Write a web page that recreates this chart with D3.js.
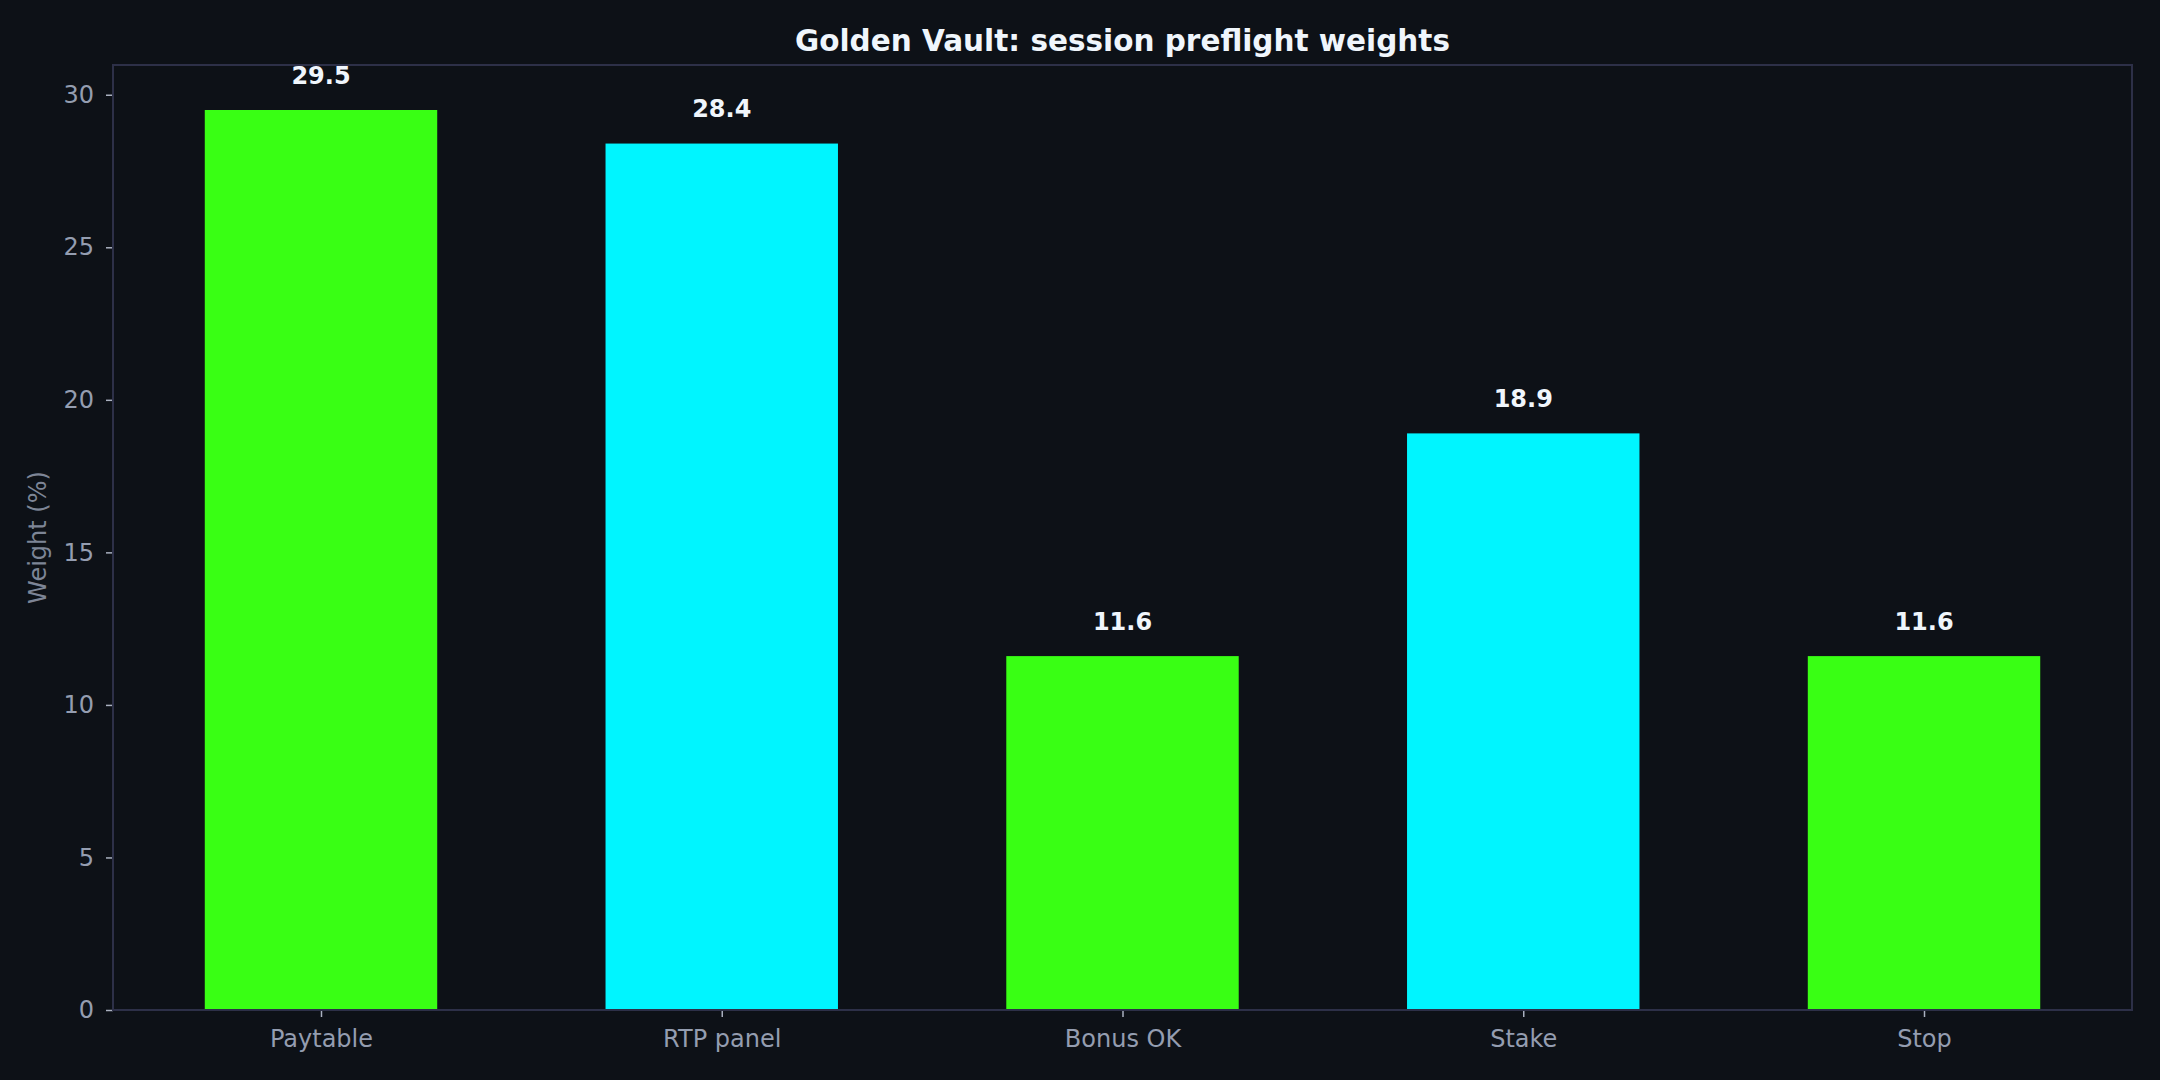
<!DOCTYPE html>
<html>
<head>
<meta charset="utf-8">
<script src="https://cdn.jsdelivr.net/npm/d3@7"></script>
<style>
  html, body { margin: 0; padding: 0; background: #0d1117; }
  svg { display: block; }
</style>
</head>
<body>
<svg id="chart" width="2160" height="1080"></svg>
<script>
const categories = ["Paytable", "RTP panel", "Bonus OK", "Stake", "Stop"];
const weights = [29.5, 28.4, 11.6, 18.9, 11.6];
const barColors = ["#39ff14", "#00f5ff", "#39ff14", "#00f5ff", "#39ff14"];
const yTicks = [0, 5, 10, 15, 20, 25, 30];
const titleText = "Golden Vault: session preflight weights";
const yLabelText = "Weight (%)";

const W = 2160, H = 1080;
const margin = { left: 113, right: 28, top: 65, bottom: 70 };
const plotW = W - margin.left - margin.right;
const plotH = H - margin.top - margin.bottom;
const font = "DejaVu Sans, Verdana, sans-serif";
const labelColor = "#949db0";
const tickLineColor = "#aab1c0";
const spineColor = "#2d3048";

const svg = d3.select("#chart");
svg.append("rect").attr("width", W).attr("height", H).attr("fill", "#0d1117");

const barW = 0.58;
const n = categories.length;
const pad = 0.05 * (n - 1 + barW);
const x = d3.scaleLinear()
  .domain([-barW / 2 - pad, n - 1 + barW / 2 + pad])
  .range([0, plotW]);
const y = d3.scaleLinear()
  .domain([0, d3.max(weights) * 1.05])
  .range([plotH, 0]);

const g = svg.append("g").attr("transform", `translate(${margin.left},${margin.top})`);

// bars
g.selectAll("rect.bar").data(weights).enter().append("rect")
  .attr("class", "bar")
  .attr("x", (d, i) => x(i - barW / 2))
  .attr("width", (d, i) => x(i + barW / 2) - x(i - barW / 2))
  .attr("y", d => y(d))
  .attr("height", d => y(0) - y(d))
  .attr("fill", (d, i) => barColors[i]);

// value labels
g.selectAll("text.val").data(weights).enter().append("text")
  .attr("class", "val")
  .attr("x", (d, i) => x(i))
  .attr("y", d => y(d) - 26.5)
  .attr("text-anchor", "middle")
  .attr("font-family", font)
  .attr("font-weight", "bold")
  .attr("font-size", 24)
  .attr("fill", "#f0f6fc")
  .text(d => d.toFixed(1));

// x axis
const xAxis = g.append("g").attr("transform", `translate(0,${plotH})`)
  .call(d3.axisBottom(x).tickValues(d3.range(n)).tickFormat(i => categories[i])
    .tickSize(7).tickPadding(13));
xAxis.select(".domain").remove();
xAxis.selectAll("line").attr("stroke", tickLineColor).attr("stroke-width", 1.5);
xAxis.selectAll("text").attr("font-family", font).attr("font-size", 24)
  .attr("fill", labelColor).attr("dy", "0.71em");

// y axis
const yAxis = g.append("g")
  .call(d3.axisLeft(y).tickValues(yTicks).tickFormat(d3.format("d"))
    .tickSize(7).tickPadding(12));
yAxis.select(".domain").remove();
yAxis.selectAll("line").attr("stroke", tickLineColor).attr("stroke-width", 1.5);
yAxis.selectAll("text").attr("font-family", font).attr("font-size", 24)
  .attr("fill", labelColor);

// spines
g.append("rect")
  .attr("x", 0).attr("y", 0).attr("width", plotW).attr("height", plotH)
  .attr("fill", "none").attr("stroke", spineColor).attr("stroke-width", 2);

// y label
svg.append("text")
  .attr("transform", `translate(46,${margin.top + plotH / 2}) rotate(-90)`)
  .attr("text-anchor", "middle")
  .attr("font-family", font)
  .attr("font-size", 24)
  .attr("fill", "#7d8596")
  .text(yLabelText);

// title
svg.append("text")
  .attr("x", margin.left + plotW / 2)
  .attr("y", 51)
  .attr("text-anchor", "middle")
  .attr("font-family", font)
  .attr("font-weight", "bold")
  .attr("font-size", 29.5)
  .attr("fill", "#f0f6fc")
  .text(titleText);
</script>
</body>
</html>
